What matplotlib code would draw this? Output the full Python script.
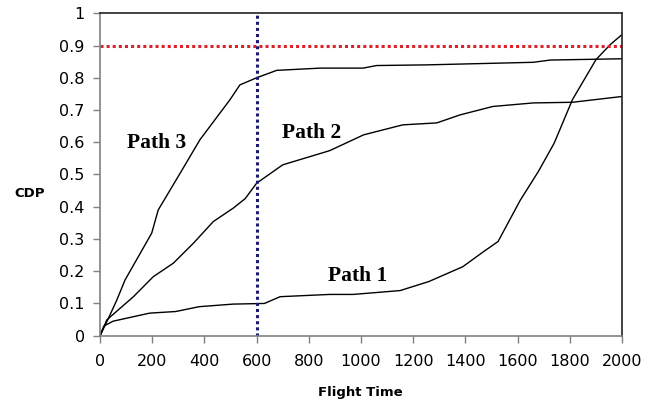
import numpy as np
import matplotlib.pyplot as plt

# values
path1_x = [0, 15, 50, 190, 290, 380, 510, 630, 690, 880, 970, 1150, 1260, 1390, 1470, 1525, 1610, 1680, 1740, 1810, 1900, 1955, 2000]
path1_y = [0, 0.03, 0.045, 0.07, 0.075, 0.09, 0.098, 0.10, 0.121, 0.128, 0.128, 0.14, 0.168, 0.214, 0.261, 0.292, 0.42, 0.51, 0.597, 0.732, 0.856, 0.903, 0.934]

path2_x = [0, 26, 128, 204, 281, 358, 434, 511, 556, 600, 700, 880, 1010, 1160, 1290, 1380, 1505, 1660, 1810, 2000]
path2_y = [0, 0.049, 0.121, 0.183, 0.225, 0.287, 0.354, 0.396, 0.425, 0.473, 0.53, 0.574, 0.623, 0.654, 0.66, 0.685, 0.711, 0.722, 0.724, 0.742]

path3_x = [0, 30, 64, 96, 198, 223, 307, 383, 498, 536, 600, 677, 845, 1008, 1060, 1250, 1660, 1725, 2000]
path3_y = [0, 0.05, 0.11, 0.173, 0.318, 0.39, 0.504, 0.608, 0.732, 0.778, 0.80, 0.823, 0.830, 0.83, 0.838, 0.84, 0.848, 0.855, 0.859]

threshold_cdp = 0.9
threshold_time = 600

fig = plt.figure(figsize=(6.52, 4.03), dpi=100)
ax = fig.add_axes([0.1534, 0.167, 0.8006, 0.80])

ax.plot(path1_x, path1_y, color="black", lw=1.0)
ax.plot(path2_x, path2_y, color="black", lw=1.0)
ax.plot(path3_x, path3_y, color="black", lw=1.0)
ax.axhline(threshold_cdp, color="#d9242b", ls=(0, (1, 1)), lw=2.2)
ax.axvline(threshold_time, color="#1c1a6e", ls=(0, (1, 1)), lw=2.2)

ax.set_xlim(0, 2000)
ax.set_ylim(0, 1)
ax.set_xticks(np.arange(0, 2001, 200))
ax.set_yticks(np.arange(0, 1.01, 0.1))
ax.set_yticklabels(["0"] + [f"{v:.1f}" for v in np.arange(0.1, 0.95, 0.1)] + ["1"])
ax.tick_params(labelsize=11.5, length=5, width=1, color="#808080", pad=6)
ax.tick_params(axis="x", pad=8)
for s in ("left", "bottom"):
    ax.spines[s].set_color("#808080")
for s in ("top", "right"):
    ax.spines[s].set_color("#222222")
for s in ax.spines.values():
    s.set_linewidth(1.2)

serif = dict(family="Liberation Serif", fontweight="bold", fontsize=15.5)
ax.text(215, 0.598, "Path 3", ha="center", va="center", **serif)
ax.text(812, 0.629, "Path 2", ha="center", va="center", **serif)
ax.text(988, 0.185, "Path 1", ha="center", va="center", **serif)

fig.text(0.045, 0.521, "CDP", ha="center", va="center", fontsize=9.5, fontweight="bold")
fig.text(0.553, 0.025, "Flight Time", ha="center", va="center", fontsize=9.5, fontweight="bold")

fig.savefig("out.png", dpi=100)
